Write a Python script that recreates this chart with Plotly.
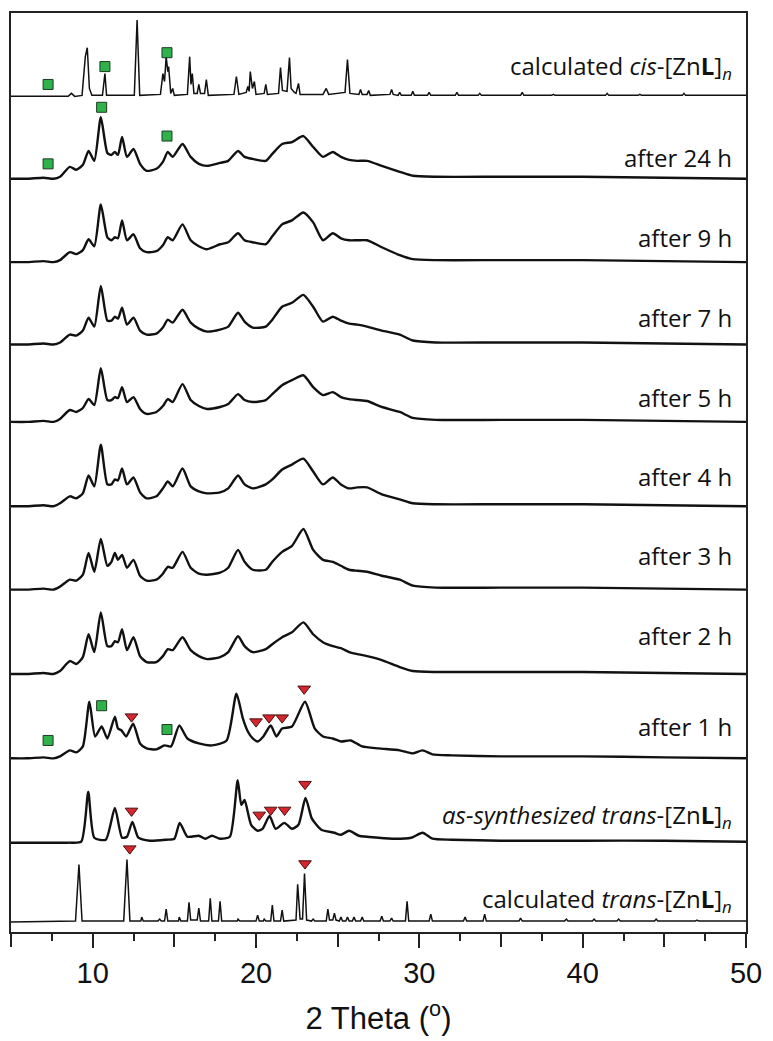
import plotly.graph_objects as go

# ---------------- data (2-theta in degrees, intensity in arbitrary units) -------------
# calculated cis-[ZnL]n pattern (read vertices)
X_CALC_CIS = [5, 8.5, 8.7, 8.9, 9.35, 9.5, 9.55, 9.67, 9.8, 9.95, 10.6, 10.75, 10.85, 12.55, 12.72, 12.88,
              14.15, 14.3, 14.4, 14.5, 14.6, 14.65, 14.78, 14.9, 15.0, 15.8, 15.94, 16.02, 16.1, 16.2, 16.4,
              16.5, 16.6, 16.85, 16.96, 17.08, 18.65, 18.8, 18.95, 19.4, 19.5, 19.58, 19.65, 19.78, 19.9,
              20.0, 20.5, 20.6, 20.7, 21.38, 21.5, 21.62, 21.9, 22.05, 22.15, 22.35, 22.45, 22.6, 22.7,
              24.1, 24.3, 24.45, 25.45, 25.6, 25.75, 26.3, 26.4, 26.5, 26.8, 26.9, 27.0, 28.2, 28.3, 28.4,
              28.7, 28.8, 28.9, 29.5, 29.6, 29.7, 30.5, 30.6, 30.7, 32.2, 32.3, 32.4, 33.6, 33.7, 33.8,
              36.2, 36.3, 36.4, 38.1, 38.2, 38.3, 41.4, 41.5, 41.6, 43.4, 43.5, 43.6, 46.1, 46.2, 46.3, 50]
H_CALC_CIS = [0, 0, 3, 0, 1, 30, 40, 49, 8, 1, 1, 23, 1, 1, 77, 1,
              2, 23, 15, 40, 25, 30, 3, 8, 1, 2, 40, 12, 23, 3, 3,
              12, 3, 3, 17, 1, 2, 20, 2, 4, 10, 5, 25, 8, 15,
              2, 3, 12, 2, 3, 29, 6, 5, 39, 8, 4, 3, 13, 2,
              2, 8, 2, 4, 37, 3, 2, 7, 2, 2, 6, 1, 2, 7, 2,
              1, 4, 1, 1, 5, 1, 1, 4, 1, 1, 4, 1, 1, 3, 1,
              1, 4, 1, 1, 2, 1, 1, 3, 1, 1, 2, 1, 1, 3, 1, 1]

# common 2-theta positions of the in-situ (after x h) patterns
X_EXP = [5, 6, 7, 7.6, 8.0, 8.6, 9.0, 9.4, 9.75, 10.1, 10.5, 10.9, 11.15, 11.36, 11.55, 11.8, 12.1, 12.5,
         12.9, 13.3, 13.9, 14.3, 14.6, 14.9, 15.5, 16.0, 16.5, 17.0, 17.8, 18.3, 18.9, 19.3, 19.8, 20.6,
         21.0, 21.6, 22.2, 22.9, 23.5, 24.1, 24.7, 25.2, 25.7, 26.2, 26.8, 27.7, 28.8, 29.6, 31, 35, 40,
         45, 50]
H_24H = [0, 0, 1, 0, 2, 12, 9, 14, 28, 18, 62, 26, 24, 27, 24, 42, 22, 30, 15, 8, 10, 17, 27, 22, 35, 22,
         15, 13, 16, 18, 28, 22, 20, 18, 25, 35, 37, 43, 32, 22, 27, 22, 19, 18, 18, 13, 7, 3, 2, 2, 2, 1, 0]
H_9H = [0, 0, 1, 0, 2, 10, 8, 12, 23, 16, 58, 25, 22, 25, 24, 42, 22, 28, 14, 10, 11, 17, 25, 22, 38, 22,
        16, 13, 18, 20, 29, 22, 20, 18, 26, 38, 42, 50, 40, 22, 29, 24, 22, 22, 22, 15, 7, 3, 2, 2, 2, 1, 0]
H_7H = [0, 0, 1, 0, 2, 10, 9, 14, 27, 18, 59, 24, 24, 28, 26, 37, 20, 27, 14, 10, 11, 17, 25, 22, 35, 22,
        16, 13, 15, 18, 32, 23, 17, 18, 25, 38, 42, 50, 38, 23, 28, 24, 21, 20, 18, 14, 10, 4, 2, 2, 2, 1, 0]
H_5H = [0, 0, 1, 0, 3, 12, 10, 14, 23, 17, 54, 22, 22, 25, 24, 35, 20, 25, 13, 8, 10, 16, 23, 20, 38, 22,
        16, 13, 15, 18, 28, 22, 20, 22, 28, 37, 42, 47, 35, 27, 30, 25, 23, 22, 21, 15, 10, 4, 2, 2, 2, 1, 0]
H_4H = [0, 0, 1, 0, 3, 10, 8, 13, 31, 20, 62, 22, 22, 27, 26, 38, 22, 29, 14, 8, 10, 18, 25, 20, 38, 20,
        15, 13, 14, 18, 31, 22, 18, 22, 27, 37, 42, 48, 35, 22, 29, 22, 18, 19, 19, 12, 7, 3, 2, 2, 2, 1, 0]
H_3H = [0, 0, 1, 0, 3, 10, 9, 15, 37, 18, 51, 24, 28, 37, 30, 35, 22, 30, 14, 9, 10, 16, 23, 22, 38, 22,
        16, 15, 17, 22, 40, 28, 20, 20, 28, 38, 44, 61, 40, 30, 28, 24, 20, 19, 18, 14, 10, 4, 2, 2, 2, 1, 0]
H_2H = [0, 0, 1, 0, 3, 13, 10, 17, 40, 22, 62, 28, 28, 33, 32, 45, 24, 37, 18, 12, 12, 18, 25, 24, 37, 24,
        18, 15, 17, 22, 38, 28, 22, 25, 30, 37, 42, 52, 40, 32, 28, 26, 22, 20, 18, 14, 7, 3, 2, 2, 2, 1, 0]

X_1H = [5, 6, 7, 7.6, 8.0, 8.6, 9.0, 9.4, 9.8, 10.15, 10.55, 10.9, 11.36, 11.55, 11.77, 12.05, 12.48, 12.9,
        13.3, 13.9, 14.4, 14.8, 15.3, 15.8, 16.5, 17.3, 18.2, 18.8, 19.2, 19.5, 19.8, 20.1, 20.45, 20.9,
        21.25, 21.6, 22.2, 23.0, 23.6, 24.1, 24.7, 25.2, 25.8, 26.5, 27.5, 28.8, 29.6, 30.2, 30.8, 32, 35,
        40, 45, 50]
H_1H = [0, 0, 1, 0, 2, 8, 6, 12, 57, 22, 32, 20, 42, 30, 28, 22, 35, 15, 10, 9, 13, 12, 33, 20, 15, 13, 18,
        65, 40, 27, 20, 17, 22, 33, 22, 30, 32, 57, 30, 22, 20, 17, 18, 12, 10, 8, 5, 8, 4, 3, 2, 2, 1, 0]

X_AS = [5, 7, 8.5, 9.3, 9.73, 10.1, 10.8, 11.36, 11.8, 12.1, 12.43, 12.8, 13.5, 14.5, 15.0, 15.33, 15.8,
        16.5, 16.9, 17.3, 17.8, 18.4, 18.88, 19.1, 19.3, 19.7, 20.1, 20.4, 20.83, 21.2, 21.74, 22.2, 22.6,
        23.03, 23.4, 23.6, 24.0, 24.8, 25.2, 25.7, 26.3, 27.5, 28.5, 29.5, 30.2, 30.8, 32, 35, 40, 45, 50]
H_AS = [0, 0, 0, 1, 51, 5, 3, 35, 5, 6, 21, 5, 2, 3, 4, 20, 6, 7, 4, 7, 4, 6, 63, 38, 43, 18, 12, 14, 27,
        14, 20, 14, 18, 45, 25, 20, 13, 10, 8, 12, 7, 5, 4, 5, 10, 4, 3, 2, 2, 2, 1]

X_CALC_TRANS = [5, 8.95, 9.16, 9.35, 11.9, 12.1, 12.28, 12.95, 13.0, 13.1, 14.0, 14.1, 14.2, 14.4, 14.5, 14.6,
                15.25, 15.3, 15.4, 15.8, 15.9, 16.0, 16.4, 16.5, 16.6, 17.1, 17.2, 17.3, 17.7, 17.8, 17.9,
                18.85, 18.9, 19.0, 20.0, 20.1, 20.2, 20.45, 20.5, 20.6, 20.9, 21.0, 21.1, 21.5, 21.6, 21.7,
                22.45, 22.55, 22.7, 22.85, 22.97, 23.1, 23.4, 23.5, 23.6, 24.3, 24.4, 24.5, 24.7, 24.8, 24.9,
                25.1, 25.2, 25.3, 25.5, 25.6, 25.7, 25.9, 26.0, 26.1, 26.4, 26.5, 26.6, 27.6, 27.7, 27.8,
                28.2, 28.3, 28.4, 29.15, 29.25, 29.35, 30.6, 30.7, 30.8, 32.7, 32.8, 32.9, 33.9, 34.0, 34.1,
                36.1, 36.2, 36.3, 38.9, 39.0, 39.1, 40.6, 40.7, 40.8, 42.1, 42.2, 42.3, 44.4, 44.5, 44.6,
                46.9, 47.0, 47.1, 50]
H_CALC_TRANS = [0, 1, 58, 1, 1, 63, 1, 1, 5, 1, 1, 3, 1, 1, 13, 1,
                1, 5, 1, 1, 20, 2, 2, 14, 1, 1, 24, 1, 1, 21, 1,
                1, 3, 1, 1, 7, 1, 1, 3, 1, 1, 17, 1, 1, 12, 1,
                2, 38, 3, 3, 49, 2, 1, 3, 1, 1, 13, 2, 2, 9, 2,
                1, 5, 1, 1, 5, 1, 1, 5, 1, 1, 5, 1, 1, 6, 1,
                1, 4, 1, 1, 21, 1, 1, 8, 1, 1, 5, 1, 1, 8, 1,
                1, 4, 1, 1, 3, 1, 1, 3, 1, 1, 3, 1, 1, 3, 1,
                1, 2, 1, 1]

# vertical stacking levels of each pattern (top to bottom)
NAMES = ["calculated <i>cis</i>-[Zn<b>L</b>]<sub><i>n</i></sub>", "after 24 h", "after 9 h", "after 7 h",
         "after 5 h", "after 4 h", "after 3 h", "after 2 h", "after 1 h",
         "<i>as-synthesized trans</i>-[Zn<b>L</b>]<sub><i>n</i></sub>",
         "calculated <i>trans</i>-[Zn<b>L</b>]<sub><i>n</i></sub>"]
OFFSETS = [842, 759, 675, 592, 514, 429, 345, 260, 175, 90, 10]
LABEL_Y = [872, 780, 700, 619, 539, 459, 379, 299, 207, 117, 32]
SERIES = [(X_CALC_CIS, H_CALC_CIS), (X_EXP, H_24H), (X_EXP, H_9H), (X_EXP, H_7H), (X_EXP, H_5H),
          (X_EXP, H_4H), (X_EXP, H_3H), (X_EXP, H_2H), (X_1H, H_1H), (X_AS, H_AS),
          (X_CALC_TRANS, H_CALC_TRANS)]
CALCULATED = [True, False, False, False, False, False, False, False, False, False, True]

# phase markers: (pattern index, 2-theta, height above the pattern baseline)
CIS_MARK_IDX = [0, 0, 0, 1, 1, 1, 8, 8, 8]
CIS_MARK_X = [7.27, 10.75, 14.55, 7.27, 10.55, 14.55, 7.27, 10.55, 14.55]
CIS_MARK_H = [12, 30, 44, 15, 72, 43, 18, 53, 29]
TRANS_MARK_IDX = [8, 8, 8, 8, 8, 9, 9, 9, 9, 9, 10, 10]
TRANS_MARK_X = [12.38, 20.0, 20.8, 21.6, 22.95, 12.38, 20.2, 20.9, 21.75, 23.0, 12.27, 23.0]
TRANS_MARK_H = [42, 37, 41, 41, 70, 32, 28, 33, 33, 59, 74, 59]

X_LABELED_TICKS = [10, 20, 30, 40, 50]
X_UNLABELED_TICKS = [5, 15, 25, 35, 45]

# ---------------- figure -------------------------------------------------------------
fig = go.Figure()
for (xs, hs), off, calc in zip(SERIES, OFFSETS, CALCULATED):
    fig.add_trace(go.Scatter(
        x=xs, y=[off + h for h in hs], mode="lines",
        line=dict(color="#111111", width=1.5 if calc else 2.4,
                  shape="linear" if calc else "spline", smoothing=0.6),
        hoverinfo="skip", showlegend=False))

fig.add_trace(go.Scatter(
    x=CIS_MARK_X, y=[OFFSETS[i] + h for i, h in zip(CIS_MARK_IDX, CIS_MARK_H)],
    mode="markers", marker=dict(symbol="square", size=10, color="#2fb14b",
                                line=dict(color="#1d3b22", width=1)),
    hoverinfo="skip", showlegend=False))
fig.add_trace(go.Scatter(
    x=TRANS_MARK_X, y=[OFFSETS[i] + h for i, h in zip(TRANS_MARK_IDX, TRANS_MARK_H)],
    mode="markers", marker=dict(symbol="triangle-down", size=11, color="#d4262c",
                                line=dict(color="#4a1010", width=1)),
    hoverinfo="skip", showlegend=False))

# invisible trace that carries the second (tick-only) x axis
fig.add_trace(go.Scatter(x=[5, 50], y=[0, 0], xaxis="x2", mode="lines",
                         line=dict(width=0), hoverinfo="skip", showlegend=False))

for name, ly in zip(NAMES, LABEL_Y):
    fig.add_annotation(x=49.25, y=ly, xref="x", yref="y", text=name, showarrow=False,
                       xanchor="right", yanchor="middle",
                       font=dict(family="Open Sans", size=24, color="#111111"))

fig.update_layout(
    width=773, height=1041,
    margin=dict(l=11, r=26, t=11, b=104),
    paper_bgcolor="white", plot_bgcolor="white",
    xaxis=dict(range=[5, 50], showgrid=False, zeroline=False,
               showline=True, mirror=True, linecolor="#222222", linewidth=2,
               tickmode="array", tickvals=X_LABELED_TICKS,
               ticks="outside", ticklen=14, tickwidth=2, tickcolor="#222222",
               minor=dict(tickmode="linear", tick0=5, dtick=2.5, ticks="outside",
                          ticklen=7, tickwidth=2, tickcolor="#222222"),
               tickfont=dict(family="Liberation Sans", size=29, color="#111111"),
               title=dict(text="2 Theta (<sup>o</sup>)", standoff=20,
                          font=dict(family="Liberation Sans", size=31, color="#111111"))),
    xaxis2=dict(range=[5, 50], overlaying="x", side="bottom", showgrid=False, zeroline=False,
                showline=False, showticklabels=False, tickmode="array", tickvals=X_UNLABELED_TICKS,
                ticks="outside", ticklen=14, tickwidth=2, tickcolor="#222222"),
    yaxis=dict(range=[0, 926], showgrid=False, zeroline=False, showticklabels=False,
               ticks="", showline=True, mirror=True, linecolor="#222222", linewidth=2),
)

fig.write_html("out.html")
